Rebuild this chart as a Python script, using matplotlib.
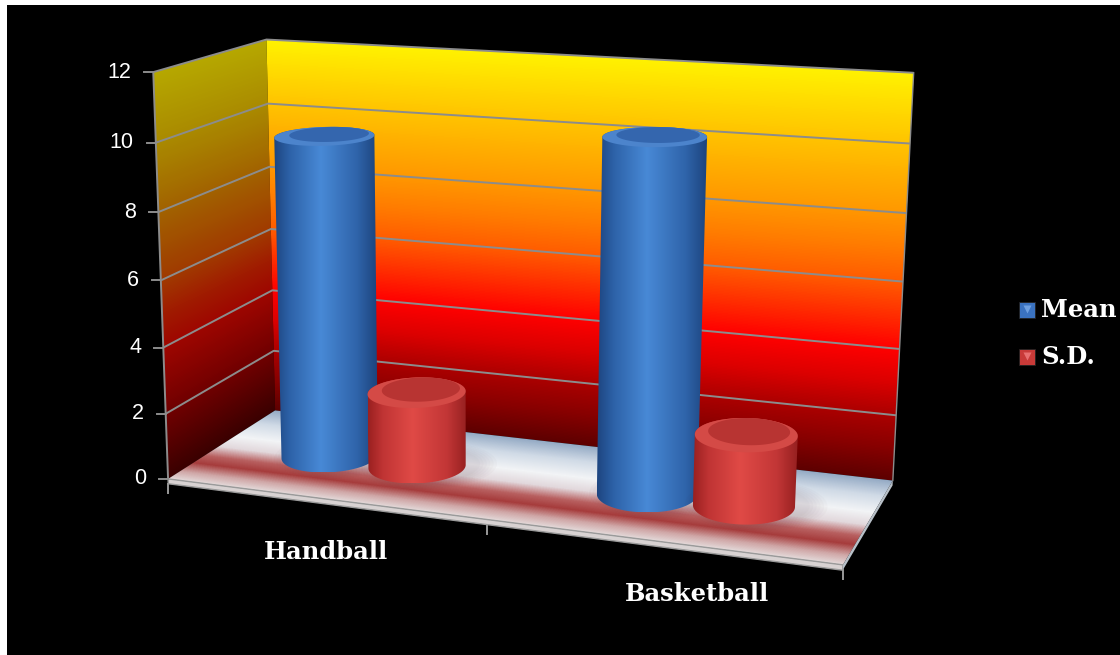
import numpy as np
import matplotlib
matplotlib.use("Agg")
import matplotlib.pyplot as plt
from matplotlib.patches import Polygon, Rectangle
from matplotlib.colors import LinearSegmentedColormap

# ---- data ----
categories = ["Handball", "Basketball"]
series_names = ["Mean", "S.D."]
mean_vals = [9.8, 10.4]
sd_vals = [2.3, 2.1]
y_ticks = [0, 2, 4, 6, 8, 10, 12]

# ---- layout ----
W, H = 1120, 655
VMAX = 12
NCAT = len(categories)
DEPTH = 0.65          # floor depth in category units
BAR_W = 1 / 3.5       # gap width 150%
SLAB = 0.15           # floor thickness in value units
CX, CY, SC = 560.0, 330.0, 500.0

# where the plot box lands in the picture: (cat x, value, depth) -> pixel
box_pts = [
    ((0, 12, 0), (152, 72)),
    ((0, 8, 0), (156, 213)),
    ((0, 4, 0), (162, 348)),
    ((0, 0, 0), (172, 480)),
    ((0, 12, DEPTH), (270, 40)),
    ((0, 6, DEPTH), (271, 228)),
    ((0, 0, DEPTH), (272, 410)),
    ((2, 12, DEPTH), (913, 72)),
    ((2, 6, DEPTH), (903, 282)),
    ((2, 0, DEPTH), (893, 482)),
    ((1, 0, 0), (488, 517)),
    ((2, 0, 0), (843, 565)),
]


def fit_camera(pairs):
    rows = []
    for (X, V, Z), (u, w) in pairs:
        u, w = (u - CX) / SC, (w - CY) / SC
        rows.append([X, V, Z, 1, 0, 0, 0, 0, -u * X, -u * V, -u * Z, -u])
        rows.append([0, 0, 0, 0, X, V, Z, 1, -w * X, -w * V, -w * Z, -w])
    _, _, vt = np.linalg.svd(np.array(rows, float))
    return vt[-1].reshape(3, 4)


P = fit_camera(box_pts)


def proj(x, v, z):
    x, v, z = np.broadcast_arrays(np.asarray(x, float), np.asarray(v, float),
                                  np.asarray(z, float))
    q = P @ np.vstack([x.ravel(), v.ravel(), z.ravel(), np.ones(x.size)])
    u = q[0] / q[2] * SC + CX
    w = q[1] / q[2] * SC + CY
    return u.reshape(x.shape), w.reshape(x.shape)


def poly_pts(corners):
    xs, vs, zs = zip(*corners)
    u, w = proj(xs, vs, zs)
    return np.column_stack([u, w])


uu, ww = np.meshgrid(np.arange(W) + 0.5, np.arange(H) + 0.5)
un, wn = (uu - CX) / SC, (ww - CY) / SC


def plane_coords(c1, c2, c0):
    Mi = np.linalg.inv(np.column_stack([c1, c2, c0]))
    q = np.tensordot(Mi, np.stack([un, wn, np.ones_like(un)]), axes=1)
    return q[0] / q[2], q[1] / q[2]


def hull(pts):
    pts = sorted(map(tuple, pts))
    def cross(o, a, b):
        return (a[0] - o[0]) * (b[1] - o[1]) - (a[1] - o[1]) * (b[0] - o[0])
    lower, upper = [], []
    for p in pts:
        while len(lower) >= 2 and cross(lower[-2], lower[-1], p) <= 0:
            lower.pop()
        lower.append(p)
    for p in reversed(pts):
        while len(upper) >= 2 and cross(upper[-2], upper[-1], p) <= 0:
            upper.pop()
        upper.append(p)
    return np.array(lower[:-1] + upper[:-1])


back_cmap = LinearSegmentedColormap.from_list("back", [
    (0, "#5e0000"), (1 / 12, "#880000"), (2 / 12, "#ac0000"), (3 / 12, "#dc0000"),
    (4 / 12, "#ff0000"), (5 / 12, "#ff2e00"), (6 / 12, "#ff5c00"), (7 / 12, "#ff7c00"),
    (8 / 12, "#ff9700"), (9 / 12, "#ffad00"), (10 / 12, "#ffc300"), (11 / 12, "#ffda00"),
    (1, "#fff200")])
left_cmap = LinearSegmentedColormap.from_list("left", [
    (0, "#3a0000"), (2 / 12, "#700000"), (4 / 12, "#9e0600"), (5 / 12, "#a01c00"),
    (6 / 12, "#a03a00"), (8 / 12, "#a26200"), (10 / 12, "#aa8a00"), (1, "#b6a800")])
floor_cmap = LinearSegmentedColormap.from_list("floor", [
    (0, "#e4dada"), (0.1, "#d0a8a8"), (0.22, "#a63c3c"), (0.32, "#b86060"),
    (0.45, "#e2d8dc"), (0.6, "#f2f4f6"), (0.8, "#d0dae6"), (1, "#94aac4")])
blue_body = LinearSegmentedColormap.from_list("bb", [
    (0, "#1d4580"), (0.15, "#2d62a8"), (0.45, "#4889d6"), (0.8, "#2f64aa"), (1, "#1c437c")])
red_body = LinearSegmentedColormap.from_list("rb", [
    (0, "#9a2020"), (0.15, "#c03434"), (0.45, "#e04a46"), (0.8, "#c23636"), (1, "#962020")])
bar_styles = [
    dict(body=blue_body, rim="#4c84cc", top="#3466ae", legend="#3a72c0", light="#6fa0e0"),
    dict(body=red_body, rim="#d44a46", top="#b83432", legend="#c83a38", light="#e87070"),
]
values = [mean_vals, sd_vals]

fig = plt.figure(figsize=(W / 100, H / 100), dpi=100, facecolor="white")
ax = fig.add_axes([0, 0, 1, 1])
ax.axis("off")
ax.add_patch(Rectangle((7, 5), W - 7, H - 5, facecolor="black", edgecolor="none", zorder=0))


def gradient_fill(img, corners, z):
    patch = Polygon(poly_pts(corners), closed=True, transform=ax.transData)
    im = ax.imshow(img, extent=(0, W, H, 0), interpolation="bilinear", zorder=z)
    im.set_clip_path(patch)


# left wall
zz, vv = plane_coords(P[:, 2], P[:, 1], P[:, 3])
gradient_fill(left_cmap(np.clip(vv / VMAX, 0, 1)),
              [(0, 0, 0), (0, 0, DEPTH), (0, VMAX, DEPTH), (0, VMAX, 0)], 1)
# back wall
xx, vv = plane_coords(P[:, 0], P[:, 1], P[:, 2] * DEPTH + P[:, 3])
gradient_fill(back_cmap(np.clip(vv / VMAX, 0, 1)),
              [(0, 0, DEPTH), (NCAT, 0, DEPTH), (NCAT, VMAX, DEPTH), (0, VMAX, DEPTH)], 1)
# floor
xx, zz = plane_coords(P[:, 0], P[:, 2], P[:, 3])
gradient_fill(floor_cmap(np.clip(zz / DEPTH, 0, 1)),
              [(0, 0, 0), (NCAT, 0, 0), (NCAT, 0, DEPTH), (0, 0, DEPTH)], 2)
ax.add_patch(Polygon(poly_pts([(0, 0, 0), (NCAT, 0, 0), (NCAT, -SLAB, 0), (0, -SLAB, 0)]),
                     closed=True, facecolor="#d8d2d2", edgecolor="#9a9a9a", lw=1, zorder=2))
ax.add_patch(Polygon(poly_pts([(NCAT, 0, 0), (NCAT, 0, DEPTH), (NCAT, -SLAB, DEPTH), (NCAT, -SLAB, 0)]),
                     closed=True, facecolor="#b8c0c8", edgecolor="none", zorder=2))

# gridlines and wall edges
grid_kw = dict(color="#8c8c8c", lw=1.4, zorder=3, solid_capstyle="butt")
for t in y_ticks:
    if t == 0:
        continue
    u, w = proj([0, 0, NCAT], [t, t, t], [0, DEPTH, DEPTH])
    ax.plot(u, w, **grid_kw)
u, w = proj([0, 0], [0, VMAX], [0, 0])
ax.plot(u, w, **grid_kw)
u, w = proj([NCAT, NCAT], [0, VMAX], [DEPTH, DEPTH])
ax.plot(u, w, color="#8c8c8c", lw=1.0, zorder=3)

# value axis ticks and labels
for t in y_ticks:
    u, w = proj(0, t, 0)
    ax.plot([u - 9, u], [w, w], color="#8c8c8c", lw=1.4, zorder=3)
    ax.text(u - 22, w, str(t), ha="right", va="center", color="white",
            fontsize=15.5, family="Liberation Sans", zorder=5)

# category ticks and labels
for i in range(NCAT + 1):
    u, w = proj(i, -SLAB, 0)
    ax.plot([u, u], [w, w + 9], color="#9a9a9a", lw=1.4, zorder=3)
label_nudge = [(3, 53), (37, 52)]
for i, name in enumerate(categories):
    u, w = proj(i + 0.5, 0, 0)
    ax.text(u + label_nudge[i][0], w + label_nudge[i][1], name, ha="center", va="center",
            color="white", fontsize=17.5, fontweight="bold", family="DejaVu Serif", zorder=5)

# cylinders
theta = np.linspace(0, 2 * np.pi, 181)
r = BAR_W / 2
zc = DEPTH / 2
order = 10
for i in range(NCAT):
    for s, vals in enumerate(values):
        st = bar_styles[s]
        xc = i + 0.5 + (s - 0.5) * BAR_W
        bx, bz = xc + r * np.cos(theta), zc + r * np.sin(theta)
        ub, wb = proj(bx, np.zeros_like(bx), bz)
        ut, wt = proj(bx, np.full_like(bx, vals[i]), bz)
        outline = hull(np.column_stack([np.r_[ub, ut], np.r_[wb, wt]]))
        # soft floor shadow
        for k in np.linspace(1.05, 1.4, 6):
            su, sw = proj(xc + 0.03 + k * r * np.cos(theta), np.zeros_like(bx),
                          zc + 0.02 + k * r * np.sin(theta))
            ax.fill(su, sw, color="#503040", alpha=0.025, lw=0, zorder=order)
        body = Polygon(outline, closed=True, transform=ax.transData)
        grad = st["body"](np.linspace(0, 1, 256))[None, :, :]
        im = ax.imshow(grad, extent=(outline[:, 0].min(), outline[:, 0].max(),
                                     outline[:, 1].max(), outline[:, 1].min()),
                       aspect="auto", interpolation="bilinear", zorder=order + 1)
        im.set_clip_path(body)
        ax.fill(ut, wt, color=st["rim"], lw=0, zorder=order + 2)
        iu, iw = proj(xc + 0.8 * r * np.cos(theta), np.full_like(bx, vals[i]),
                      zc + 0.03 + 0.8 * r * np.sin(theta))
        ax.fill(iu, iw, color=st["top"], lw=0, zorder=order + 3)
        order += 5

# legend
for s, name in enumerate(series_names):
    y0 = 310 + 47 * s
    ax.plot(1027, y0, marker="s", ms=11, mfc=bar_styles[s]["legend"],
            mec="#222222", mew=0.6, zorder=50)
    ax.plot(1027, y0 - 1.5, marker="v", ms=6, mfc=bar_styles[s]["light"],
            mec="none", zorder=51)
    ax.text(1041, y0, name, ha="left", va="center", color="white", fontsize=17.5,
            fontweight="bold", family="DejaVu Serif", zorder=50)

ax.set_xlim(0, W)
ax.set_ylim(H, 0)
fig.savefig("out.png", dpi=100, facecolor=fig.get_facecolor())
